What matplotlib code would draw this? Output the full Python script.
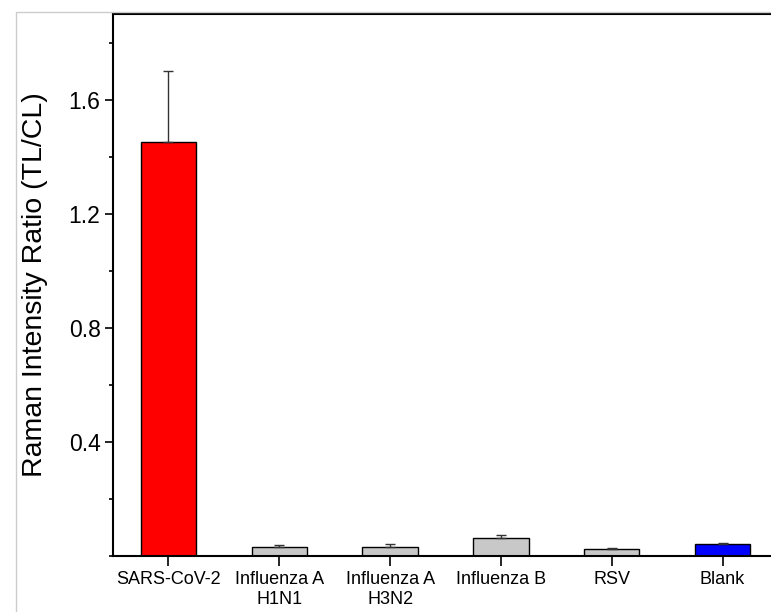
import numpy as np
import matplotlib.pyplot as plt
from matplotlib.patches import Rectangle
from matplotlib.ticker import MultipleLocator

plt.rcParams['font.family'] = ['Liberation Sans', 'DejaVu Sans']

# dati
campioni = ['SARS-CoV-2', 'Influenza A\nH1N1', 'Influenza A\nH3N2', 'Influenza B', 'RSV', 'Blank']
rapporto = [1.45, 0.033, 0.031, 0.064, 0.026, 0.041]
errore = [0.25, 0.004, 0.010, 0.009, 0.003, 0.006]
colori = ['#ff0000', '#c8c8c8', '#c8c8c8', '#c8c8c8', '#c8c8c8', '#0000ff']

W, H = 771, 612
fig = plt.figure(figsize=(W/100, H/100), dpi=100)
# cornice grigia dell'immagine originale
fig.patches.append(Rectangle((15.5/W, -0.1), 1.2, 1.1 - 11.5/H, transform=fig.transFigure,
                             fill=False, edgecolor='#cccccc', lw=1.0))

# l'asse prosegue appena oltre il bordo destro (immagine tagliata)
ax = fig.add_axes([113/W, 1 - 556/H, 665/W, (556 - 14)/H])

x = np.arange(len(campioni))
ax.bar(x, rapporto, width=0.5, color=colori, edgecolor='black', linewidth=1.0, zorder=2)
ax.errorbar(x, rapporto, yerr=[np.zeros(len(errore)), errore], fmt='none',
            ecolor='#333333', elinewidth=1.0, capsize=3.5, capthick=1.0, zorder=3)

ax.set_xlim(-0.5, 5.5)
ax.set_ylim(0, 1.9)
ax.set_xticks(x)
ax.set_xticklabels(campioni, fontsize=13)
ax.set_yticks([0.4, 0.8, 1.2, 1.6])
ax.set_yticklabels(['0.4', '0.8', '1.2', '1.6'], fontsize=16.5)
ax.yaxis.set_minor_locator(MultipleLocator(0.2))
ax.tick_params(axis='both', which='major', direction='out', length=6, width=1.2, pad=3)
ax.tick_params(axis='y', which='minor', direction='out', length=3, width=1.2)
ax.tick_params(axis='x', which='major', length=7, pad=4)
ax.set_ylabel('Raman Intensity Ratio (TL/CL)', fontsize=20.5, labelpad=15)
for lato in ['left', 'bottom', 'top', 'right']:
    ax.spines[lato].set_linewidth(1.5)

fig.savefig('out.png', dpi=100)
